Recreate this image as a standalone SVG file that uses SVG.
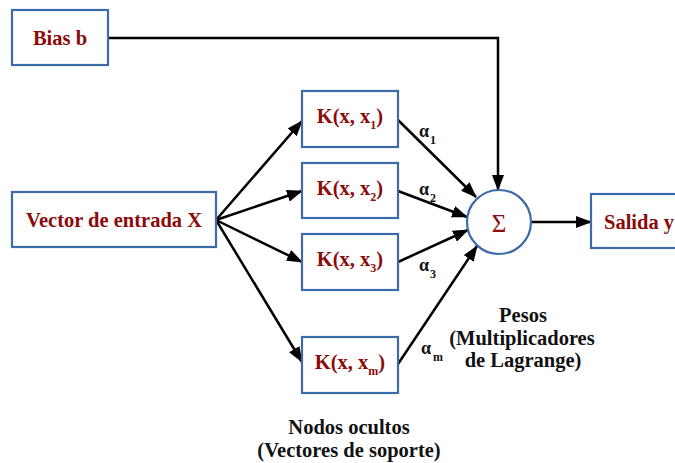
<svg xmlns="http://www.w3.org/2000/svg" width="675" height="463" viewBox="0 0 675 463">
<style>
.box{fill:#fff;stroke:#3d6aa8;stroke-width:2.2}
.t{font-family:"Liberation Serif",serif;font-weight:bold;font-size:20.5px;fill:#8b0a0a;text-anchor:middle}
.b{font-family:"Liberation Serif",serif;font-weight:bold;font-size:20.5px;fill:#111;text-anchor:middle}
.a{font-family:"Liberation Serif",serif;font-weight:bold;font-size:18px;fill:#111}
.s{font-size:12px}
.c{stroke:#000;stroke-width:2.5;fill:none}
</style>
<defs>
<marker id="ah2" markerWidth="16" markerHeight="12" refX="15" refY="6" orient="auto" markerUnits="userSpaceOnUse" viewBox="0 0 16 12">
<path d="M0,0 L16,6 L0,12 z" fill="#000"/>
</marker>
</defs>
<g id="connectors">
<path class="c" d="M108,38 H498 V190" marker-end="url(#ah2)"/>
<line class="c" x1="216" y1="220" x2="302" y2="121" marker-end="url(#ah2)"/>
<line class="c" x1="216" y1="220" x2="302" y2="191" marker-end="url(#ah2)"/>
<line class="c" x1="216" y1="220" x2="302" y2="262" marker-end="url(#ah2)"/>
<line class="c" x1="216" y1="220" x2="302" y2="362" marker-end="url(#ah2)"/>
<line class="c" x1="398" y1="120" x2="476" y2="197" marker-end="url(#ah2)"/>
<line class="c" x1="398" y1="191" x2="467" y2="217" marker-end="url(#ah2)"/>
<line class="c" x1="398" y1="262" x2="468" y2="230" marker-end="url(#ah2)"/>
<line class="c" x1="398" y1="364" x2="477" y2="246" marker-end="url(#ah2)"/>
<line class="c" x1="531" y1="222" x2="591" y2="222" marker-end="url(#ah2)"/>
</g>
<g id="bias"><rect class="box" x="12" y="10" width="96" height="55"/><text class="t" x="60" y="45">Bias b</text></g>
<g id="input"><rect class="box" x="12" y="192" width="204" height="55"/><text class="t" x="114" y="227">Vector de entrada X</text></g>
<g id="k1"><rect class="box" x="302" y="91" width="96" height="56"/><text class="t" x="350" y="123">K(x, x<tspan class="s" dy="6">1</tspan><tspan dy="-6">)</tspan></text></g>
<g id="k2"><rect class="box" x="302" y="163" width="96" height="55"/><text class="t" x="350" y="195">K(x, x<tspan class="s" dy="6">2</tspan><tspan dy="-6">)</tspan></text></g>
<g id="k3"><rect class="box" x="302" y="234" width="96" height="56"/><text class="t" x="350" y="266">K(x, x<tspan class="s" dy="6">3</tspan><tspan dy="-6">)</tspan></text></g>
<g id="km"><rect class="box" x="302" y="337" width="96" height="56"/><text class="t" x="350" y="369">K(x, x<tspan class="s" dy="6">m</tspan><tspan dy="-6">)</tspan></text></g>
<g id="sum"><circle cx="499" cy="222" r="32" fill="#fff" stroke="#3d6aa8" stroke-width="2.2"/><text class="t" x="499" y="232" style="font-weight:normal;font-size:25px">Σ</text></g>
<g id="output"><rect class="box" x="591" y="194" width="92" height="54"/><text class="t" x="604" y="229" style="text-anchor:start">Salida y</text></g>
<g id="alphas">
<text class="a" x="419" y="137">α<tspan class="s" dx="1" dy="7">1</tspan></text>
<text class="a" x="419" y="195">α<tspan class="s" dx="1" dy="7">2</tspan></text>
<text class="a" x="419" y="271">α<tspan class="s" dx="1" dy="7">3</tspan></text>
<text class="a" x="421" y="354">α<tspan class="s" dx="2" dy="7">m</tspan></text>
</g>
<g id="labels">
<text class="b" x="523" y="322">Pesos</text>
<text class="b" x="522" y="345">(Multiplicadores</text>
<text class="b" x="523" y="367">de Lagrange)</text>
<text class="b" x="349" y="434">Nodos ocultos</text>
<text class="b" x="349" y="457">(Vectores de soporte)</text>
</g>
</svg>
